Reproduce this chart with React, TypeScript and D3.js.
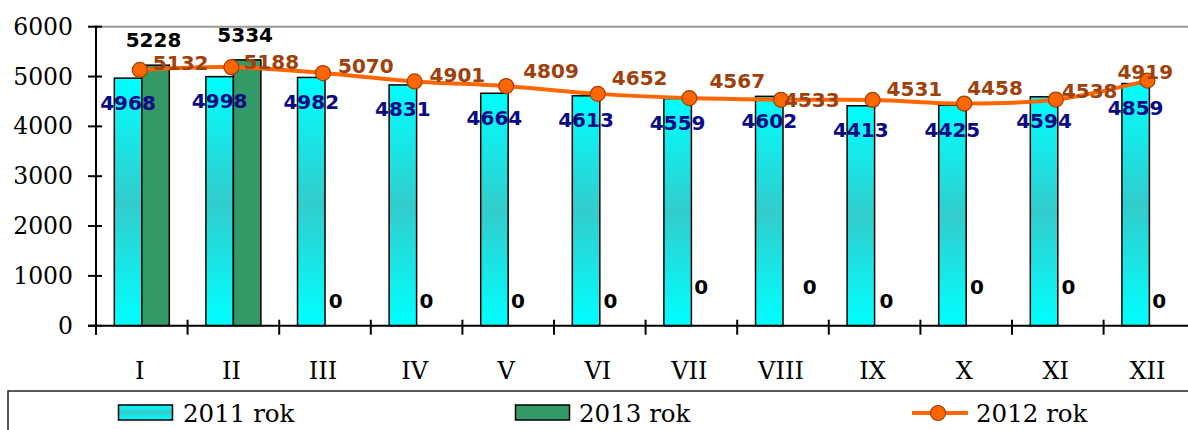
import React from "react";
import * as d3 from "d3";

const months = ["I", "II", "III", "IV", "V", "VI", "VII", "VIII", "IX", "X", "XI", "XII"];
const values2011 = [4968, 4998, 4982, 4831, 4664, 4613, 4559, 4602, 4413, 4425, 4594, 4859];
const values2013 = [5228, 5334, 0, 0, 0, 0, 0, 0, 0, 0, 0, 0];
const values2012 = [5132, 5188, 5070, 4901, 4809, 4652, 4567, 4533, 4531, 4458, 4538, 4919];
const yTicks = [0, 1000, 2000, 3000, 4000, 5000, 6000];
const seriesNames = ["2011 rok", "2013 rok", "2012 rok"];

// label nudges (layout only)
const label2012Offsets: [number, number][] = [
  [13, -7], [12, -5], [15, -7], [15, -6], [17, -15], [14, -16],
  [20, -17], [3, 0], [14, -11], [3, -16], [6, -9], [-30, -9],
];
const label2013Nudge: [number, number][] = [
  [-2, 0], [-2, 0], [-3, 0], [-4, 0], [-4, 0], [-3, 0],
  [-4, -14], [13, -14], [-2, 0], [-3, -14], [-3, -14], [-4, 0],
];

const W = 1188;
const H = 430;
const X0 = 96;
const STEP = 91.6;
const Y0 = 325.7;
const YTOP = 26.7;

const serif = "'DejaVu Serif', serif";
const sans = "'DejaVu Sans', Verdana, sans-serif";

export default function App() {
  const x = d3.scaleBand<string>().domain(months).range([X0, X0 + STEP * 12]).paddingInner(0).paddingOuter(0);
  const xs = d3.scaleBand<string>().domain(["2011", "2013"]).range([0, x.bandwidth()]).paddingInner(0).paddingOuter(0.666);
  const y = d3.scaleLinear().domain([0, 6000]).range([Y0, YTOP]);
  const bw = xs.bandwidth();

  const linePts: [number, number][] = values2012.map((v, i) => [x(months[i])! + x.bandwidth() / 2 - 2, y(v)]);
  const line = d3.line().curve(d3.curveCardinal.tension(0))(linePts) || "";

  const fs = 20;

  return (
    <svg width={W} height={H} style={{ position: "absolute", left: 0, top: 0, background: "#fff" }}>
      <defs>
        <linearGradient id="g2011" x1="0" y1="0" x2="0" y2="1">
          <stop offset="0%" stopColor="#00FFFF" />
          <stop offset="50%" stopColor="#33CCCC" />
          <stop offset="100%" stopColor="#00FFFF" />
        </linearGradient>
      </defs>
      {/* top border line */}
      <line x1={X0} x2={W} y1={y(6000)} y2={y(6000)} stroke="#9a9a9a" strokeWidth={2} />

      {/* bars 2011 */}
      {values2011.map((v, i) => (
        <rect key={"a" + i} x={x(months[i])! + xs("2011")!} y={y(v)} width={bw} height={y(0) - y(v)}
          fill="url(#g2011)" stroke="#000" strokeWidth={1.5} />
      ))}
      {/* bars 2013 */}
      {values2013.map((v, i) => v > 0 ? (
        <rect key={"b" + i} x={x(months[i])! + xs("2013")!} y={y(v)} width={bw} height={y(0) - y(v)}
          fill="#339966" stroke="#000" strokeWidth={1.5} />
      ) : null)}

      {/* axes */}
      <line x1={X0} x2={X0} y1={YTOP - 1} y2={Y0 + 9} stroke="#000" strokeWidth={2} />
      <line x1={88} x2={W} y1={Y0} y2={Y0} stroke="#000" strokeWidth={2} />
      {yTicks.map((t) => (
        <g key={"yt" + t}>
          <line x1={88} x2={102} y1={y(t)} y2={y(t)} stroke="#000" strokeWidth={2} />
          <text x={73} y={y(t) + 8} textAnchor="end" fontFamily={serif} fontSize={23.5} fill="#000">{t}</text>
        </g>
      ))}
      {months.map((m, i) => (
        <g key={"xt" + m}>
          <line x1={x(m)!} x2={x(m)!} y1={Y0 - 6} y2={Y0 + 9} stroke="#000" strokeWidth={2} />
          <text x={x(m)! + x.bandwidth() / 2 - 2} y={379} textAnchor="middle" fontFamily={serif} fontSize={24} fill="#000">{m}</text>
        </g>
      ))}
      <line x1={X0 + STEP * 12} x2={X0 + STEP * 12} y1={Y0 - 6} y2={Y0 + 9} stroke="#000" strokeWidth={2} />

      {/* 2011 labels */}
      {values2011.map((v, i) => (
        <text key={"la" + i} x={x(months[i])! + xs("2011")! + bw / 2} y={y(v) + 24.5 + 7}
          textAnchor="middle" fontFamily={sans} fontWeight="bold" fontSize={fs} fill="#0A0A86">{v}</text>
      ))}

      {/* 2012 line */}
      <path d={line} fill="none" stroke="#FF6600" strokeWidth={4} strokeLinejoin="round" />
      {linePts.map((p, i) => (
        <circle key={"m" + i} cx={p[0]} cy={p[1]} r={7.5} fill="#FF6600" stroke="#A04000" strokeWidth={1.2} />
      ))}
      {values2012.map((v, i) => (
        <text key={"lc" + i} x={linePts[i][0] + label2012Offsets[i][0]} y={linePts[i][1] + label2012Offsets[i][1] + 7}
          fontFamily={sans} fontWeight="bold" fontSize={fs} fill="#A0400A">{v}</text>
      ))}

      {/* 2013 labels */}
      {values2013.map((v, i) => (
        <text key={"lb" + i} x={x(months[i])! + xs("2013")! + bw / 2 + label2013Nudge[i][0]}
          y={y(v) - 25 + 7 + label2013Nudge[i][1]}
          textAnchor="middle" fontFamily={sans} fontWeight="bold" fontSize={fs} fill="#000">{v}</text>
      ))}

      {/* legend */}
      <rect x={8} y={391} width={W + 20} height={60} fill="none" stroke="#222" strokeWidth={1.5} />
      <rect x={118.5} y={405} width={54} height={15} fill="url(#g2011)" stroke="#000" strokeWidth={1.5} />
      <text x={183} y={422} fontFamily={serif} fontSize={24.5} fill="#000">{seriesNames[0]}</text>
      <rect x={515.5} y={405} width={54} height={15} fill="#339966" stroke="#000" strokeWidth={1.5} />
      <text x={579} y={422} fontFamily={serif} fontSize={24.5} fill="#000">{seriesNames[1]}</text>
      <line x1={912} x2={968} y1={413} y2={413} stroke="#FF6600" strokeWidth={4} />
      <circle cx={938} cy={413} r={7.5} fill="#FF6600" stroke="#A04000" strokeWidth={1.2} />
      <text x={976} y={422} fontFamily={serif} fontSize={24.5} fill="#000">{seriesNames[2]}</text>
    </svg>
  );
}
